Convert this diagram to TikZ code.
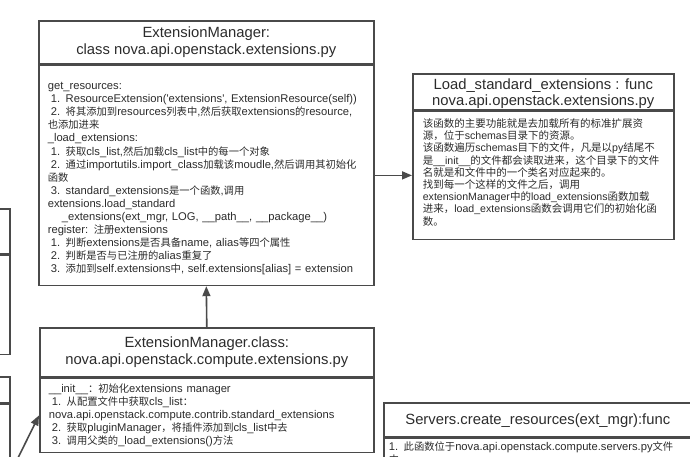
\documentclass[tikz,border=0pt]{standalone}
\usepackage{fontspec}
\usetikzlibrary{arrows.meta}
\setmainfont{Liberation Sans}
\newfontfamily\cjkA{Noto Sans CJK SC}[Scale=0.92]
\newfontfamily\cjkC{Noto Sans CJK SC}[Scale=0.99]
\newcommand\cjkpick{\cjkA}
% CJK runs get their own font
\newXeTeXintercharclass\cjkcls
\newcount\cjkcnt
\newcommand\cjkrange[2]{\cjkcnt=#1\relax
  \loop\XeTeXcharclass\cjkcnt=\cjkcls\relax
  \advance\cjkcnt by 1\relax
  \ifnum\cjkcnt<#2\relax\repeat}
\cjkrange{"3000}{"3040}
\cjkrange{"4E00}{"A000}
\cjkrange{"FF00}{"FFF0}
\XeTeXinterchartoks 0 \cjkcls = {\begingroup\cjkpick}
\XeTeXinterchartoks 4095 \cjkcls = {\begingroup\cjkpick}
\XeTeXinterchartoks \cjkcls 0 = {\endgroup}
\XeTeXinterchartoks \cjkcls 4095 = {\endgroup}
\XeTeXinterchartokenstate=1
\hyphenpenalty=10000
\hbadness=10000
\definecolor{boxgray}{HTML}{4A4A4A}
\definecolor{txtgray}{HTML}{2B2B2B}
\newcommand\leadsp{\hspace*{3pt}}
\newcommand\deepsp{\hspace*{14pt}}
\begin{document}
\begin{tikzpicture}[x=1pt,y=-1pt,
  umlbox/.style={draw=boxgray,line width=1.6pt,inner sep=0pt,anchor=north west,text=txtgray},
  hdr/.style={umlbox,align=center,font=\fontsize{14.8}{17}\selectfont},
  body/.style={umlbox,align=left,font=\fontsize{11.2}{13.1}\selectfont},
  arr/.style={draw=boxgray,line width=1.6pt,-{Triangle[length=10pt,width=8pt]}}]
\clip (0,0) rectangle (690,457);

% ExtensionManager
\node[hdr,minimum width=335,minimum height=43] (mgrT) at (38,20)
  {ExtensionManager:\\class nova.api.openstack.extensions.py};
\node[body,minimum height=220,inner xsep=9pt,text width=317] (mgrB) at (mgrT.south west)
  {\rule{0pt}{14pt}get\_resources:\\
   \leadsp 1. ResourceExtension(\textquotesingle extensions\textquotesingle, ExtensionResource(self))\\
   \leadsp 2. 将其添加到resources列表中,然后获取extensions的resource,\\
   也添加进来\\
   \_load\_extensions:\\
   \leadsp 1. 获取cls\_list,然后加载cls\_list中的每一个对象\\
   \leadsp 2. 通过importutils.import\_class加载该moudle,然后调用其初始化\\
   函数\\
   \leadsp 3. standard\_extensions是一个函数,调用\\
   extensions.load\_standard\\
   \deepsp\_extensions(ext\_mgr, LOG, \_\_path\_\_, \_\_package\_\_)\\
   register: 注册extensions\\
   \leadsp 1. 判断extensions是否具备name, alias等四个属性\\
   \leadsp 2. 判断是否与已注册的alias重复了\\
   \leadsp 3. 添加到self.extensions中, self.extensions[alias] = extension};

% Load_standard_extensions
\node[hdr,minimum width=261,minimum height=36,font=\fontsize{14.8}{16}\selectfont] (stdT) at (412,73)
  {\rule{0pt}{14.5pt}Load\_standard\_extensions : func\\nova.api.openstack.extensions.py};
\node[body,minimum height=128,inner xsep=10pt,text width=241,
  font=\fontsize{10.6}{12.2}\selectfont\let\cjkpick\cjkC] (stdB) at (stdT.south west)
  {该函数的主要功能就是去加载所有的标准扩展资\\
   源，位于schemas目录下的资源。\\
   该函数遍历schemas目下的文件，凡是以py结尾不\\
   是\_\_init\_\_的文件都会读取进来，这个目录下的文件\\
   名就是和文件中的一个类名对应起来的。\\
   找到每一个这样的文件之后，调用\\
   extensionManager中的load\_extensions函数加载\\
   进来，load\_extensions函数会调用它们的初始化函\\
   数。\rule[-7pt]{0pt}{1pt}};

% compute ExtensionManager
\node[hdr,minimum width=334,minimum height=49] (compT) at (39,327)
  {ExtensionManager.class:\\nova.api.openstack.compute.extensions.py};
\node[body,minimum height=74,inner xsep=9pt,text width=316] (compB) at (compT.south west)
  {\_\_init\_\_：初始化extensions manager\\
   \leadsp 1. 从配置文件中获取cls\_list：\\
   nova.api.openstack.compute.contrib.standard\_extensions\\
   \leadsp 2. 获取pluginManager，将插件添加到cls\_list中去\\
   \leadsp 3. 调用父类的\_load\_extensions()方法};

% Servers
\node[hdr,minimum width=308,minimum height=34] (srvT) at (383,402)
  {\rule{0pt}{13pt}Servers.create\_resources(ext\_mgr):func};
\node[body,inner xsep=5pt,inner ysep=3pt,text width=298] (srvB) at (srvT.south west)
  {1. 此函数位于nova.api.openstack.compute.servers.py文件\\中};

% left boxes, mostly outside
\node[umlbox,minimum width=60,minimum height=45,anchor=north east] (leftT) at (11,208) {};
\node[umlbox,minimum width=60,minimum height=99,anchor=north east] (leftB) at (leftT.south east) {};
\node[umlbox,minimum width=60,minimum height=26,anchor=north east] (lowT) at (11,376) {};
\node[umlbox,minimum width=60,minimum height=80,anchor=north east] (lowB) at (lowT.south east) {};

\coordinate (srcL) at (16,462);

\draw[arr] (mgrB.east) -- (stdB.west);
\draw[arr] (compT.north) -- (mgrB.south);
\draw[arr] (srcL) -- (compB.west);

\end{tikzpicture}
\end{document}
